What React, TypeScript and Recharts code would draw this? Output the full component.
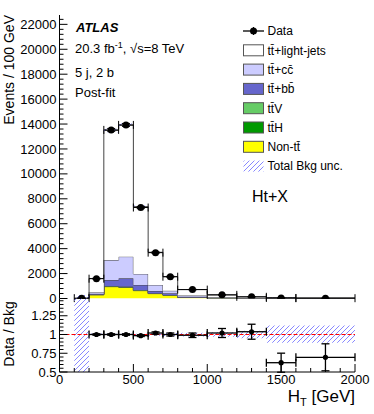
import React from 'react';
import { ComposedChart, Area, Scatter, ErrorBar, XAxis, YAxis, ReferenceLine, Legend } from 'recharts';

const FONT = '"Liberation Sans", Arial, Helvetica, sans-serif';

// ---- histogram bins (GeV, left edges + final right edge)
const binEdges = [100, 200, 300, 400, 500, 600, 700, 800, 1000, 1200, 1400, 1600, 2000];
// ---- stacked backgrounds (events / 100 GeV), bottom to top
const nonTT = [0, 300, 950, 900, 630, 390, 260, 90, 30, 15, 8, 4];
const ttH = [0, 5, 30, 30, 20, 15, 10, 5, 2, 1, 0.5, 0.2];
const ttV = [0, 10, 30, 30, 30, 15, 10, 5, 2, 1, 0.5, 0.2];
const ttbb = [0, 60, 470, 660, 405, 180, 140, 50, 20, 10, 5, 3];
const ttcc = [0, 130, 1600, 1740, 885, 485, 200, 90, 40, 20, 10, 5];
const ttlight = [0, 1100, 10400, 10540, 5400, 2625, 1130, 480, 196, 83, 46, 23];
const bkgUncLow = [0, 1580, 13340, 13760, 7280, 3660, 1720, 700, 280, 122, 62, 30];
const bkgUncHigh = [280, 1630, 13620, 14040, 7460, 3760, 1780, 740, 300, 138, 78, 40];

// ---- data
const dataX = [150, 250, 350, 450, 550, 650, 750, 900, 1100, 1300, 1500, 1800];
const dataY = [30, 1590, 13530, 13930, 7300, 3680, 1750, 713, 293, 135, 42, 24];
const dataXErr = [50, 50, 50, 50, 50, 50, 50, 100, 100, 100, 100, 200];
const dataYErr = [10, 40, 116, 118, 85, 61, 42, 27, 17, 12, 6, 5];

// ---- ratio panel
const ratioX = [250, 350, 450, 550, 650, 750, 900, 1100, 1300, 1500, 1800];
const ratioY = [1.0, 1.0, 1.0, 0.985, 1.02, 1.0, 0.99, 1.02, 1.037, 0.624, 0.696];
const ratioYErr = [0.01, 0.01, 0.01, 0.012, 0.015, 0.02, 0.03, 0.06, 0.1, 0.127, 0.18];
const ratioXErr = [50, 50, 50, 50, 50, 50, 100, 100, 100, 100, 200];
const ratioBandLow = [0.5, 0.985, 0.99, 0.99, 0.99, 0.985, 0.98, 0.975, 0.97, 0.95, 0.89, 0.89];
const ratioBandHigh = [1.48, 1.015, 1.01, 1.01, 1.01, 1.015, 1.02, 1.025, 1.03, 1.05, 1.12, 1.12];

// ---- ticks
const topYMajor = [0, 2000, 4000, 6000, 8000, 10000, 12000, 14000, 16000, 18000, 20000, 22000];
const topYMinorStep = 400;
const topXMajor = [0, 200, 400, 600, 800, 1000, 1200, 1400, 1600, 1800, 2000];
const topXMinorStep = 50;
const ratioXMajor = [0, 500, 1000, 1500, 2000];
const ratioXMinorStep = 100;
const ratioYMajor = [0.5, 0.75, 1, 1.25];
const ratioYLabels = ['0.5', '0.75', '1', '1.25'];
const ratioYMinorStep = 0.05;

const Y_MAX = 22750;
const R_MIN = 0.5;
const R_MAX = 1.48;

const range = (a: number, b: number, s: number) => {
  const out: number[] = [];
  for (let v = a; v <= b + 1e-9; v += s) out.push(Math.round(v * 1000) / 1000);
  return out;
};

const topYTicks = range(0, 22400, topYMinorStep);
const topXTicks = range(0, 2000, topXMinorStep);
const ratioXTicks = range(0, 2000, ratioXMinorStep);
const ratioYTicks = range(0.5, 1.45, ratioYMinorStep);

const colors = {
  light: '#ffffff',
  cc: '#ccccff',
  bb: '#6666cc',
  ttV: '#66cc66',
  ttH: '#009900',
  nonTT: '#ffff00',
  hatch: '#7b7bff',
};

const histRows = binEdges.map((x, i) => {
  const j = Math.min(i, nonTT.length - 1);
  return {
    x,
    nonTT: nonTT[j],
    ttH: ttH[j],
    ttV: ttV[j],
    ttbb: ttbb[j],
    ttcc: ttcc[j],
    ttlight: ttlight[j],
    unc: [bkgUncLow[j], bkgUncHigh[j]],
  };
});

const dataPoints = dataX.map((x, i) => ({ x, y: dataY[i], xe: dataXErr[i], ye: dataYErr[i] }));
const ratioPoints = ratioX.map((x, i) => ({ x, y: ratioY[i], xe: ratioXErr[i], ye: ratioYErr[i] }));
const ratioRows = binEdges.map((x, i) => {
  const j = Math.min(i, ratioBandLow.length - 1);
  return { x, band: [ratioBandLow[j], ratioBandHigh[j]] };
});

const near = (arr: number[], v: number) => arr.findIndex((m) => Math.abs(m - v) < 1e-6);

const YTick = (majors: number[], labels: string[], majLen: number, minLen: number) => (props: any) => {
  const { x, y, payload } = props;
  const idx = near(majors, payload.value);
  const isMajor = idx >= 0;
  return (
    <g>
      <line x1={x} x2={x + (isMajor ? majLen : minLen)} y1={y} y2={y} stroke="#000" strokeWidth={1} />
      {isMajor && labels.length > 0 && (
        <text x={x - 3} y={y + 4.6} textAnchor="end" fontSize={13} fontFamily={FONT} fill="#000">
          {labels[idx]}
        </text>
      )}
    </g>
  );
};

const XTick = (majors: number[], labels: string[], majLen: number, minLen: number) => (props: any) => {
  const { x, y, payload } = props;
  const idx = near(majors, payload.value);
  const isMajor = idx >= 0;
  return (
    <g>
      <line x1={x} x2={x} y1={y} y2={y - (isMajor ? majLen : minLen)} stroke="#000" strokeWidth={1} />
      {isMajor && labels.length > 0 && (
        <text x={x} y={y + 11.5} textAnchor="middle" fontSize={13} fontFamily={FONT} fill="#000">
          {labels[idx]}
        </text>
      )}
    </g>
  );
};

const topYTick = YTick(topYMajor, topYMajor.map(String), 8, 4);
const topXTick = XTick(topXMajor, [], 6, 3);
const ratioYTick = YTick(ratioYMajor, ratioYLabels, 8, 4);
const ratioXTick = XTick(ratioXMajor, ratioXMajor.map(String), 8, 4);

const BigDot = (p: any) => <circle cx={p.cx} cy={p.cy} r={3.5} fill="#000" />;
const SmallDot = (p: any) => <circle cx={p.cx} cy={p.cy} r={2.6} fill="#000" />;

const hatchPattern = (id: string) => (
  <pattern id={id} patternUnits="userSpaceOnUse" width={5} height={5}>
    <path d="M-1,1 l2,-2 M0,5 l5,-5 M4,6 l2,-2" stroke={colors.hatch} strokeWidth={0.9} />
  </pattern>
);

const TT = 't\u0074\u0304';

const legendItems = [
  { label: 'Data', kind: 'data', color: '#000' },
  { label: `${TT}+light-jets`, kind: 'box', color: colors.light },
  { label: `${TT}+cc\u0304`, kind: 'box', color: colors.cc },
  { label: `${TT}+bb\u0304`, kind: 'box', color: colors.bb },
  { label: `${TT}V`, kind: 'box', color: colors.ttV },
  { label: `${TT}H`, kind: 'box', color: colors.ttH },
  { label: `Non-${TT}`, kind: 'box', color: colors.nonTT },
  { label: 'Total Bkg unc.', kind: 'hatch', color: colors.hatch },
];

const LegendContent = () => (
  <svg width={125} height={155} style={{ overflow: 'visible', display: 'block' }}>
    <defs>{hatchPattern('hatchLeg')}</defs>
    {legendItems.map((it, i) => {
      const cy = 9 + i * 19.3;
      return (
        <g key={it.label}>
          {it.kind === 'data' && (
            <g>
              <line x1={0} x2={21} y1={cy} y2={cy} stroke="#000" strokeWidth={1.3} />
              <line x1={10.5} x2={10.5} y1={cy - 4} y2={cy + 4} stroke="#000" strokeWidth={1} />
              <circle cx={10.5} cy={cy} r={3.5} fill="#000" />
            </g>
          )}
          {it.kind === 'box' && (
            <rect x={0.5} y={cy - 5.5} width={20} height={11} fill={it.color} stroke="#555" strokeWidth={1} />
          )}
          {it.kind === 'hatch' && <rect x={0.5} y={cy - 5.5} width={20} height={11} fill="url(#hatchLeg)" />}
          <text x={24.5} y={cy + 4.3} fontSize={12} fontFamily={FONT} fill="#000">
            {it.label}
          </text>
        </g>
      );
    })}
  </svg>
);

export default function App() {
  return (
    <div style={{ position: 'absolute', left: 0, top: 0, width: 374, height: 414, background: '#fff' }}>
      <div style={{ position: 'absolute', left: 0, top: 0 }}>
        <ComposedChart width={374} height={310} data={histRows} margin={{ top: 15, right: 19, bottom: 11.5, left: 0 }}>
          <defs>{hatchPattern('hatchTop')}</defs>
          <Area type="stepAfter" dataKey="nonTT" stackId="s" fill={colors.nonTT} fillOpacity={1} stroke="#555" strokeWidth={1} isAnimationActive={false} />
          <Area type="stepAfter" dataKey="ttH" stackId="s" fill={colors.ttH} fillOpacity={1} stroke="#555" strokeWidth={1} isAnimationActive={false} />
          <Area type="stepAfter" dataKey="ttV" stackId="s" fill={colors.ttV} fillOpacity={1} stroke="#555" strokeWidth={1} isAnimationActive={false} />
          <Area type="stepAfter" dataKey="ttbb" stackId="s" fill={colors.bb} fillOpacity={1} stroke="#444" strokeWidth={1} isAnimationActive={false} />
          <Area type="stepAfter" dataKey="ttcc" stackId="s" fill={colors.cc} fillOpacity={1} stroke="#555" strokeWidth={1} isAnimationActive={false} />
          <Area type="stepAfter" dataKey="ttlight" stackId="s" fill={colors.light} fillOpacity={1} stroke="#444" strokeWidth={1} isAnimationActive={false} />
          <Area type="stepAfter" dataKey="unc" fill="url(#hatchTop)" fillOpacity={1} stroke="none" isAnimationActive={false} />
          <Scatter data={dataPoints} dataKey="y" shape={BigDot} isAnimationActive={false}>
            <ErrorBar dataKey="xe" direction="x" width={4} stroke="#000" strokeWidth={1} />
            <ErrorBar dataKey="ye" direction="y" width={4} stroke="#000" strokeWidth={1} />
          </Scatter>
          <XAxis dataKey="x" type="number" domain={[0, 2000]} ticks={topXTicks} interval={0} tickSize={0} tickMargin={0} height={0} tick={topXTick} tickLine={false} axisLine={{ stroke: '#000' }} allowDataOverflow />
          <YAxis type="number" domain={[0, Y_MAX]} ticks={topYTicks} interval={0} tickSize={0} tickMargin={0} width={59.5} tick={topYTick} tickLine={false} axisLine={{ stroke: '#000' }} allowDataOverflow />
          <XAxis xAxisId="top" orientation="top" type="number" domain={[0, 2000]} height={0} tick={false} tickLine={false} axisLine={{ stroke: '#000' }} />
          <YAxis yAxisId="right" orientation="right" type="number" domain={[0, Y_MAX]} width={0} tick={false} tickLine={false} axisLine={{ stroke: '#000' }} />
          <Legend
            layout="vertical"
            align="center"
            verticalAlign="middle"
            content={LegendContent}
            wrapperStyle={{ position: 'absolute', left: 243, top: 22, width: 125, height: 155 }}
          />
        </ComposedChart>
      </div>
      <div style={{ position: 'absolute', left: 0, top: 290 }}>
        <ComposedChart width={374} height={124} data={ratioRows} margin={{ top: 8.5, right: 19, bottom: 0, left: 0 }}>
          <defs>{hatchPattern('hatchRatio')}</defs>
          <Area type="stepAfter" dataKey="band" fill="url(#hatchRatio)" fillOpacity={1} stroke="none" isAnimationActive={false} />
          <ReferenceLine y={1} stroke="#ff0000" strokeWidth={1} strokeDasharray="4 2" />
          <Scatter data={ratioPoints} dataKey="y" shape={SmallDot} isAnimationActive={false}>
            <ErrorBar dataKey="xe" direction="x" width={4} stroke="#000" strokeWidth={1.3} />
            <ErrorBar dataKey="ye" direction="y" width={4} stroke="#000" strokeWidth={1.3} />
          </Scatter>
          <XAxis dataKey="x" type="number" domain={[0, 2000]} ticks={ratioXTicks} interval={0} tickSize={0} tickMargin={0} height={42} tick={ratioXTick} tickLine={false} axisLine={{ stroke: '#000' }} allowDataOverflow />
          <YAxis type="number" domain={[R_MIN, R_MAX]} ticks={ratioYTicks} interval={0} tickSize={0} tickMargin={0} width={59.5} tick={ratioYTick} tickLine={false} axisLine={{ stroke: '#000' }} allowDataOverflow />
          <YAxis yAxisId="right" orientation="right" type="number" domain={[R_MIN, R_MAX]} width={0} tick={false} tickLine={false} axisLine={{ stroke: '#000' }} />
        </ComposedChart>
      </div>
      <svg width={374} height={414} style={{ position: 'absolute', left: 0, top: 0, pointerEvents: 'none' }} fontFamily={FONT}>
        <text x={76} y={32} fontSize={13} fontWeight="bold" fontStyle="italic">ATLAS</text>
        <text x={75} y={53} fontSize={13}>
          20.3 fb
          <tspan dy={-5} fontSize={9}>-1</tspan>
          <tspan dy={5}>, √s=8 TeV</tspan>
        </text>
        <text x={75} y={77} fontSize={13}>5 j, 2 b</text>
        <text x={75} y={97} fontSize={13}>Post-fit</text>
        <text x={252} y={202} fontSize={16}>Ht+X</text>
        <text transform="translate(13.5,15) rotate(-90)" textAnchor="end" fontSize={14}>Events / 100 GeV</text>
        <text transform="translate(13.5,334) rotate(-90)" textAnchor="middle" fontSize={14}>Data / Bkg</text>
        <text x={355} y={402} textAnchor="end" fontSize={17}>
          H<tspan dy={4} fontSize={11}>T</tspan>
          <tspan dy={-4}> [GeV]</tspan>
        </text>
      </svg>
    </div>
  );
}
